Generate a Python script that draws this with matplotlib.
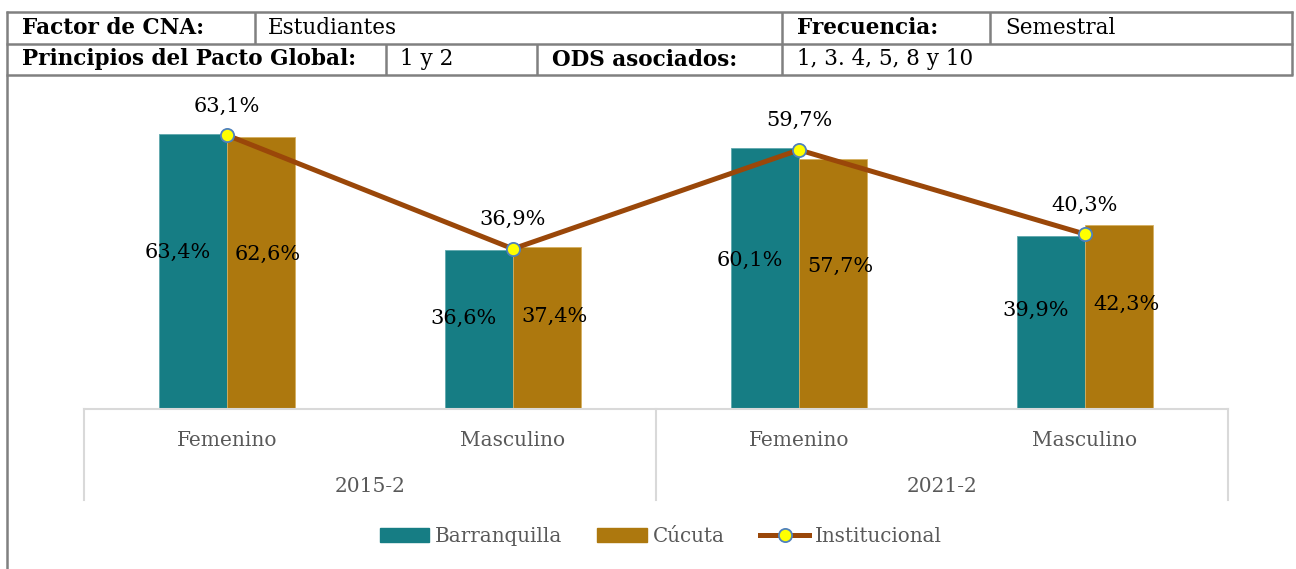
import matplotlib
matplotlib.use("Agg")
import matplotlib.pyplot as plt
from matplotlib.lines import Line2D
from matplotlib.patches import Patch
import matplotlib.transforms as mtransforms

# ---- data ----
periods = ["2015-2", "2021-2"]
genders = ["Femenino", "Masculino", "Femenino", "Masculino"]
barranquilla = [63.4, 36.6, 60.1, 39.9]
cucuta = [62.6, 37.4, 57.7, 42.3]
institucional = [63.1, 36.9, 59.7, 40.3]
series_names = ["Barranquilla", "Cúcuta", "Institucional"]

header_row1 = [("Factor de CNA:", True), ("Estudiantes", False), ("Frecuencia:", True), ("Semestral", False)]
header_row2 = [("Principios del Pacto Global:", True), ("1 y 2", False), ("ODS asociados:", True), ("1, 3. 4, 5, 8 y 10", False)]

def fmt(v):
    return f"{v:.1f}".replace(".", ",") + "%"

# ---- style ----
FONT = ["DejaVu Serif"]
plt.rcParams["font.family"] = FONT
C_BAR1 = "#167D84"
C_BAR2 = "#AD780E"
C_LINE = "#9A4709"
GRID_GREY = "#D9D9D9"
BORDER = "#808080"
W, H = 1296, 569

fig = plt.figure(figsize=(W / 100, H / 100), dpi=100)

def fx(px):
    return px / W

def fy(py):
    return 1 - py / H

# ---- header table ----
def hline(x0, x1, y):
    fig.add_artist(Line2D([fx(x0), fx(x1)], [fy(y), fy(y)], color=BORDER, lw=1.8,
                          transform=fig.transFigure, solid_capstyle="butt"))

def vline(x, y0, y1):
    fig.add_artist(Line2D([fx(x), fx(x)], [fy(y0), fy(y1)], color=BORDER, lw=1.8,
                          transform=fig.transFigure, solid_capstyle="butt"))

for y in (12, 43.5, 75):
    hline(6, 1293, y)
vline(7, 11, 569)
vline(1292, 11, 75)
for x in (255, 782, 990):
    vline(x, 12, 43.5)
for x in (386, 537, 782):
    vline(x, 43.5, 75)

row1_x = [22, 268, 797, 1005]
row2_x = [22, 400, 552, 797]
for (txt, bold), x in zip(header_row1, row1_x):
    fig.text(fx(x), fy(28), txt, ha="left", va="center", fontsize=15.5,
             fontweight="bold" if bold else "normal", color="black")
for (txt, bold), x in zip(header_row2, row2_x):
    fig.text(fx(x), fy(59.5), txt, ha="left", va="center", fontsize=15.5,
             fontweight="bold" if bold else "normal", color="black")

# ---- chart ----
ax = fig.add_axes([fx(84), fy(409), fx(1228) - fx(84), (409 - 100) / H])
x = list(range(len(genders)))
bw = 0.238
ax.bar([i - bw / 2 for i in x], barranquilla, width=bw, color=C_BAR1,
       edgecolor="#5FA8AD", linewidth=0.6, zorder=2)
ax.bar([i + bw / 2 for i in x], cucuta, width=bw, color=C_BAR2,
       edgecolor="#D6B060", linewidth=0.6, zorder=2)
ax.plot(x, institucional, color=C_LINE, lw=3.6, marker="o", markersize=9.5,
        markerfacecolor="#FFFF00", markeredgecolor="#4F81BD", markeredgewidth=1.3,
        zorder=4, solid_capstyle="round")

ax.set_xlim(-0.5, len(genders) - 0.5)
ax.set_ylim(0, 309 / 4.34)
for s in ("top", "right", "left"):
    ax.spines[s].set_visible(False)
ax.spines["bottom"].set_color(GRID_GREY)
ax.spines["bottom"].set_linewidth(1.5)
ax.set_yticks([])
ax.set_xticks([])

# data labels
pt_per_px = 72 / 100
for i, v in enumerate(barranquilla):
    ax.annotate(fmt(v), (i - bw / 2, v * 0.57), xytext=(-15 * pt_per_px, 0),
                textcoords="offset points", ha="center", va="center",
                fontsize=15, color="black", zorder=5)
for i, v in enumerate(cucuta):
    ax.annotate(fmt(v), (i + bw / 2, v * 0.57), xytext=(7 * pt_per_px, 0),
                textcoords="offset points", ha="center", va="center",
                fontsize=15, color="black", zorder=5)
for i, v in enumerate(institucional):
    ax.annotate(fmt(v), (i, v), xytext=(0, 29 * pt_per_px),
                textcoords="offset points", ha="center", va="center",
                fontsize=15, color="black", zorder=5)

# multi-level category axis
trans = mtransforms.blended_transform_factory(ax.transData, ax.transAxes)
ax_h = 409 - 100
n_per = len(genders) // len(periods)
for b in [-0.5 + k * n_per for k in range(len(periods) + 1)]:
    ax.plot([b, b], [0, -(500 - 409) / ax_h], transform=trans, color=GRID_GREY,
            lw=1.5, clip_on=False)
for i, g in enumerate(genders):
    ax.text(i, -(440 - 409) / ax_h, g, transform=trans, ha="center", va="center",
            fontsize=14.5, color="#595959")
for k, p in enumerate(periods):
    ax.text(k * n_per + (n_per - 1) / 2, -(487 - 409) / ax_h, p, transform=trans,
            ha="center", va="center", fontsize=14.5, color="#595959")

# legend
handles = [Patch(facecolor=C_BAR1, edgecolor=C_BAR1),
           Patch(facecolor=C_BAR2, edgecolor=C_BAR2),
           Line2D([0], [0], color=C_LINE, lw=3.6, marker="o", markersize=9.5,
                  markerfacecolor="#FFFF00", markeredgecolor="#4F81BD", markeredgewidth=1.3)]
leg = fig.legend(handles, series_names, loc="center", bbox_to_anchor=(fx(661), fy(536)),
                 ncol=3, frameon=False, fontsize=14.3, handlelength=2.5,
                 handletextpad=0.3, columnspacing=1.75, labelcolor="#595959",
                 handleheight=0.7)

fig.savefig("out.png", dpi=100)
